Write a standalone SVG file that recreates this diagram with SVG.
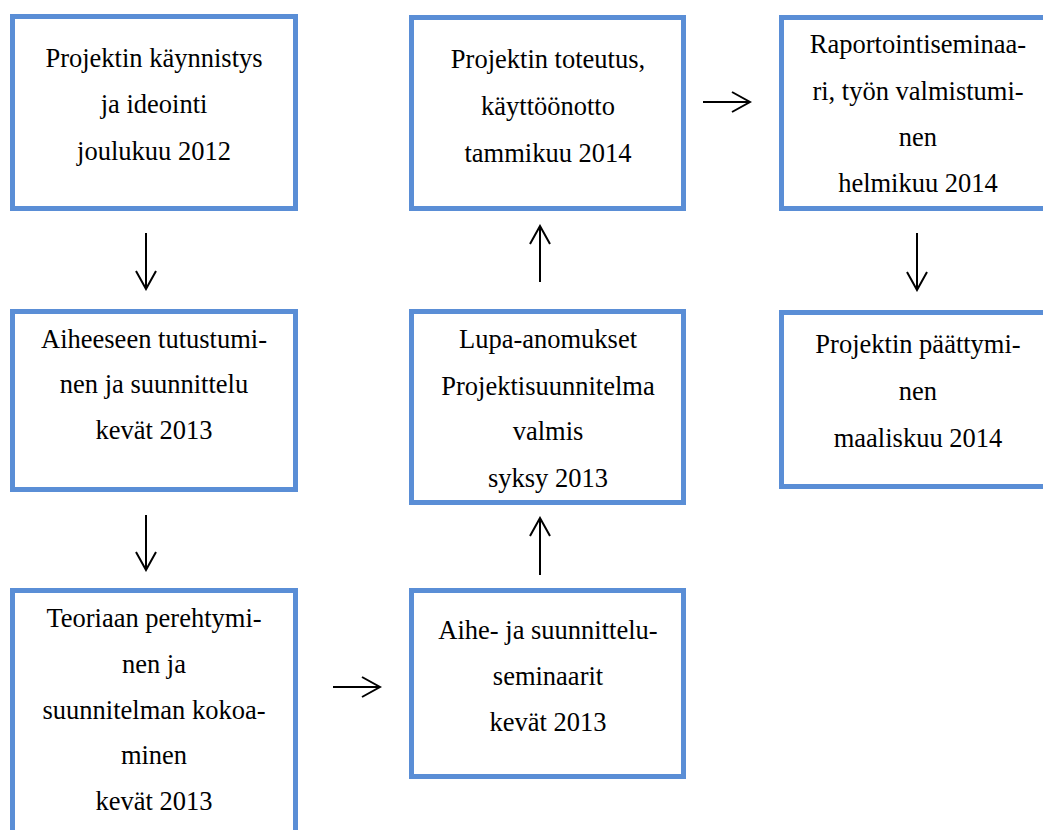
<svg xmlns="http://www.w3.org/2000/svg" width="1043" height="830" viewBox="0 0 1043 830">
<style>
.box{fill:#fff;stroke:#5A8ED6;stroke-width:5}
.t{font-family:'Liberation Serif','Times New Roman',serif;font-size:26.5px;fill:#000;text-anchor:middle}
.c{stroke:#000;stroke-width:2;fill:none}
</style>
<defs>
<marker id="ah" markerUnits="userSpaceOnUse" viewBox="-20 -12 22 24" refX="0" refY="0" markerWidth="22" markerHeight="24" orient="auto">
<path d="M-18,-10 L0,0 L-18,10" fill="none" stroke="#000" stroke-width="2"/>
</marker>
</defs>
<rect width="1043" height="830" fill="#fff"/>
<g id="n1"><rect class="box" x="12.5" y="16.5" width="283" height="192"/>
<text class="t" x="154" y="67">Projektin käynnistys</text>
<text class="t" x="154" y="113">ja ideointi</text>
<text class="t" x="154" y="160">joulukuu 2012</text></g>
<g id="n2"><rect class="box" x="12.5" y="311.5" width="283" height="178"/>
<text class="t" x="154" y="348">Aiheeseen tutustumi-</text>
<text class="t" x="154" y="393">nen ja suunnittelu</text>
<text class="t" x="154" y="439">kevät 2013</text></g>
<g id="n3"><rect class="box" x="12.5" y="590.5" width="283" height="260"/>
<text class="t" x="154" y="627">Teoriaan perehtymi-</text>
<text class="t" x="154" y="673">nen ja</text>
<text class="t" x="154" y="719">suunnitelman kokoa-</text>
<text class="t" x="154" y="764">minen</text>
<text class="t" x="154" y="810">kevät 2013</text></g>
<g id="n4"><rect class="box" x="411.5" y="590.5" width="272" height="186"/>
<text class="t" x="548" y="639">Aihe- ja suunnittelu-</text>
<text class="t" x="548" y="685">seminaarit</text>
<text class="t" x="548" y="731">kevät 2013</text></g>
<g id="n5"><rect class="box" x="411.5" y="311.5" width="272" height="191"/>
<text class="t" x="548" y="348">Lupa-anomukset</text>
<text class="t" x="548" y="395">Projektisuunnitelma</text>
<text class="t" x="548" y="440">valmis</text>
<text class="t" x="548" y="487">syksy 2013</text></g>
<g id="n6"><rect class="box" x="411.5" y="17.5" width="272" height="191"/>
<text class="t" x="548" y="68">Projektin toteutus,</text>
<text class="t" x="548" y="115">käyttöönotto</text>
<text class="t" x="548" y="162">tammikuu 2014</text></g>
<g id="n7"><rect class="box" x="781.5" y="17.5" width="273" height="191"/>
<text class="t" x="918" y="53">Raportointiseminaa-</text>
<text class="t" x="918" y="100">ri, työn valmistumi-</text>
<text class="t" x="918" y="146">nen</text>
<text class="t" x="918" y="192">helmikuu 2014</text></g>
<g id="n8"><rect class="box" x="781.5" y="312.5" width="273" height="174"/>
<text class="t" x="918" y="353">Projektin päättymi-</text>
<text class="t" x="918" y="400">nen</text>
<text class="t" x="918" y="447">maaliskuu 2014</text></g>
<g id="connectors">
<line class="c" x1="146" y1="233" x2="146" y2="289" marker-end="url(#ah)"/>
<line class="c" x1="146" y1="515" x2="146" y2="570" marker-end="url(#ah)"/>
<line class="c" x1="333" y1="687" x2="380" y2="687" marker-end="url(#ah)"/>
<line class="c" x1="540" y1="575" x2="540" y2="518" marker-end="url(#ah)"/>
<line class="c" x1="540" y1="282" x2="540" y2="226" marker-end="url(#ah)"/>
<line class="c" x1="703" y1="102" x2="750" y2="102" marker-end="url(#ah)"/>
<line class="c" x1="917" y1="233" x2="917" y2="290" marker-end="url(#ah)"/>
</g>
</svg>
